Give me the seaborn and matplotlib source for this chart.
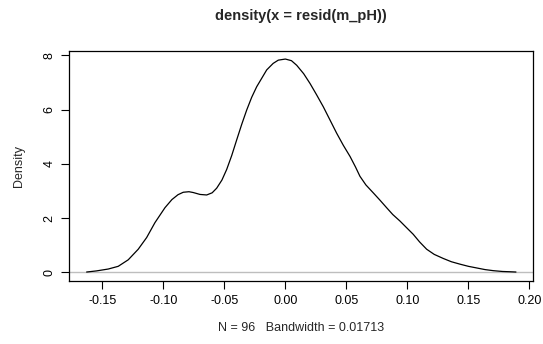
import matplotlib
matplotlib.use("Agg")
import matplotlib.pyplot as plt
import seaborn as sns
import pandas as pd

# points (resid(m_pH), bw = 0.01713)
resid_x = [-0.1629, -0.1550, -0.1452, -0.1370, -0.1288, -0.1206, -0.1137, -0.1069,
           -0.0987, -0.0930, -0.0880, -0.0837, -0.0790, -0.0755, -0.0700, -0.0645,
           -0.0600, -0.0563, -0.0520, -0.0481, -0.0440, -0.0399, -0.0358, -0.0317,
           -0.0276, -0.0235, -0.0190, -0.0153, -0.0100, -0.0058, 0.0000, 0.0050,
           0.0093, 0.0150, 0.0202, 0.0255, 0.0311, 0.0365, 0.0420, 0.0475,
           0.0530, 0.0575, 0.0611, 0.0660, 0.0720, 0.0775, 0.0830, 0.0880,
           0.0939, 0.0990, 0.1048, 0.1100, 0.1158, 0.1220, 0.1294, 0.1360,
           0.1431, 0.1500, 0.1568, 0.1636, 0.1704, 0.1780, 0.1841, 0.1890]
density_y = [0.01, 0.05, 0.12, 0.22, 0.46, 0.85, 1.28, 1.83,
             2.38, 2.68, 2.86, 2.95, 2.97, 2.94, 2.87, 2.85,
             2.93, 3.10, 3.40, 3.79, 4.30, 4.88, 5.45, 5.98,
             6.45, 6.84, 7.18, 7.46, 7.70, 7.82, 7.86, 7.80,
             7.63, 7.32, 6.96, 6.55, 6.10, 5.62, 5.13, 4.68,
             4.27, 3.88, 3.54, 3.22, 2.93, 2.66, 2.38, 2.13,
             1.89, 1.66, 1.40, 1.12, 0.85, 0.66, 0.51, 0.39,
             0.30, 0.22, 0.16, 0.10, 0.06, 0.03, 0.02, 0.01]
x_ticks = [-0.15, -0.10, -0.05, 0.00, 0.05, 0.10, 0.15, 0.20]
y_ticks = [0, 2, 4, 6, 8]

df = pd.DataFrame({"x": resid_x, "Density": density_y})

sns.set_style("white")
plt.rcParams["font.family"] = ["Liberation Sans", "DejaVu Sans"]

fig = plt.figure(figsize=(5.43, 3.44), dpi=100)
ax = fig.add_axes([0.1276, 0.184, 0.8534, 0.668])

ax.axhline(0, color="#BEBEBE", lw=1)
sns.lineplot(data=df, x="x", y="Density", color="black", lw=0.9,
             sort=False, estimator=None, ax=ax)

ax.set_xlim(-0.1771, 0.2027)
ax.set_ylim(-0.31, 8.16)
ax.set_xticks(x_ticks)
ax.set_xticklabels(["%.2f" % v for v in x_ticks])
ax.set_yticks(y_ticks)
ax.set_yticklabels([str(v) for v in y_ticks], rotation=90, va="center")
ax.tick_params(direction="out", length=6, width=0.8, colors="black",
               labelsize=9, pad=4, bottom=True, left=True)
for s in ax.spines.values():
    s.set_color("black")
    s.set_linewidth(0.9)

ax.set_title("density(x = resid(m_pH))", fontsize=10.5, fontweight="bold", pad=22)
ax.set_xlabel("N = 96   Bandwidth = 0.01713", fontsize=9, labelpad=11)
ax.set_ylabel("Density", fontsize=9, labelpad=13)

fig.savefig("out.png", dpi=100)
